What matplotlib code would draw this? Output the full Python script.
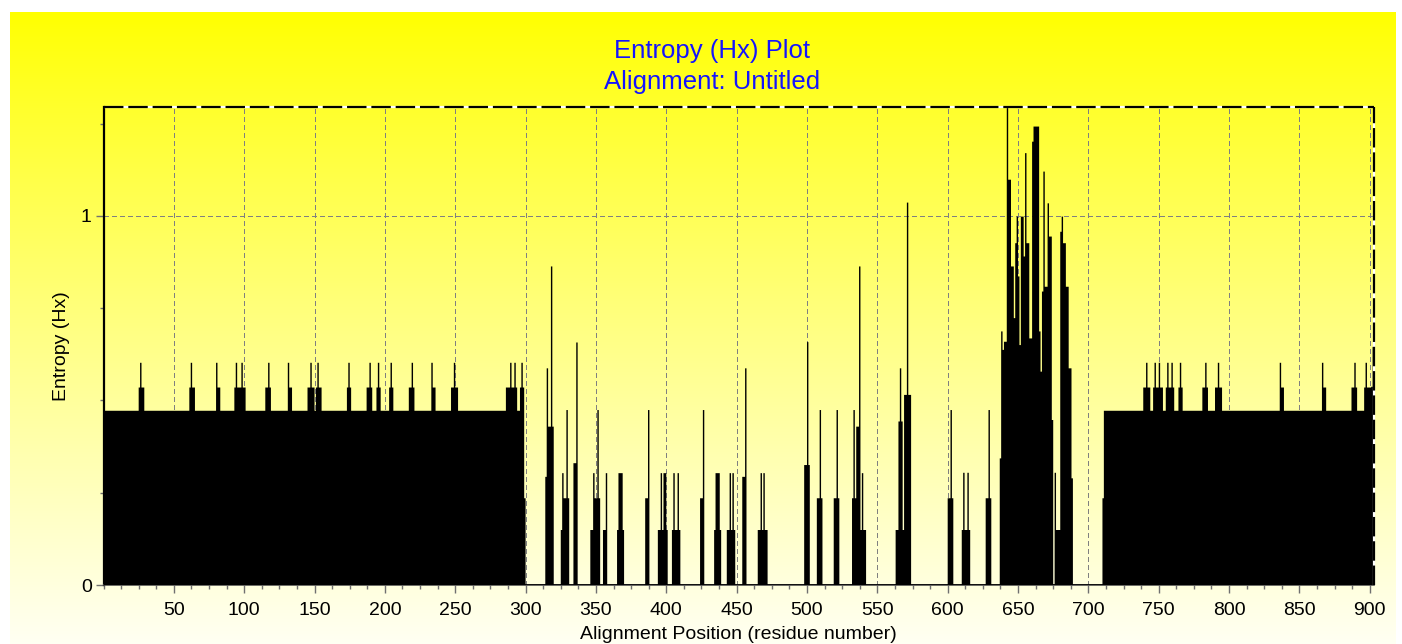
import numpy as np
import matplotlib
matplotlib.use("Agg")
import matplotlib.pyplot as plt
from matplotlib.ticker import MultipleLocator, FixedLocator

plt.rcParams['font.family'] = ['Liberation Sans', 'DejaVu Sans']
plt.rcParams['lines.scale_dashes'] = False

# ---------------- data ----------------
N_POSITIONS = 903
PLATEAU_LEVEL = 0.472
plateau_ranges = [(1, 299), (712, 903)]

SHOULDER_LEVEL = 0.535
shoulder_ranges = [(26, 29), (62, 65), (81, 83), (94, 101), (116, 119), (132, 134),
                   (146, 150), (152, 155), (174, 176), (188, 191), (195, 197), (204, 206),
                   (218, 221), (234, 236), (248, 252), (287, 294), (297, 299),
                   (740, 744), (747, 753), (756, 761), (765, 767), (782, 785), (791, 795),
                   (837, 839), (867, 869), (888, 891), (897, 900), (901, 902)]

SPIKE_LEVEL = 0.602
spike_positions = [27, 63, 81, 95, 99, 118, 132, 148, 153, 175, 190, 196, 205, 220,
                   234, 250, 290, 293, 298, 742, 748, 751, 757, 760, 766, 784, 793,
                   837, 867, 890, 898]

mid_positions = [300, 315, 316, 317, 318, 319, 320, 326, 327, 328, 329, 330, 331,
                 335, 336, 337, 347, 348, 349, 350, 351, 352, 353, 356, 357, 358,
                 366, 367, 368, 369, 370, 386, 387, 388, 395, 396, 397, 398, 399, 400, 401,
                 405, 406, 407, 408, 409, 410, 425, 426, 427, 435, 436, 437, 438, 439,
                 444, 445, 446, 447, 448, 449, 455, 456, 457, 466, 467, 468, 469, 470, 471, 472,
                 499, 500, 501, 502, 508, 509, 510, 511, 520, 521, 522, 523,
                 533, 534, 535, 536, 537, 538, 539, 540, 541, 542,
                 564, 565, 566, 567, 568, 569, 570, 571, 572, 573, 574,
                 601, 602, 603, 604, 611, 612, 613, 614, 615, 616, 628, 629, 630, 631,
                 638, 639, 640, 641, 642, 643, 644, 645, 646, 647, 648, 649, 650, 651, 652,
                 653, 654, 655, 656, 657, 658, 659, 660, 661, 662, 663, 664, 665, 666, 667,
                 668, 669, 670, 671, 672, 673, 674, 675, 677, 678, 679, 680, 681, 682, 683,
                 684, 685, 686, 687, 688, 689, 711, 902]
mid_values = [0.235, 0.293, 0.587, 0.429, 0.429, 0.863, 0.429, 0.149, 0.303, 0.235, 0.235, 0.474, 0.235,
              0.330, 0.330, 0.657, 0.149, 0.149, 0.303, 0.235, 0.235, 0.474, 0.235, 0.149, 0.149, 0.303,
              0.149, 0.303, 0.303, 0.303, 0.149, 0.235, 0.235, 0.474, 0.149, 0.149, 0.303, 0.149, 0.303, 0.303, 0.149,
              0.149, 0.303, 0.149, 0.149, 0.303, 0.149, 0.235, 0.235, 0.474, 0.149, 0.303, 0.303, 0.303, 0.149,
              0.149, 0.149, 0.303, 0.149, 0.303, 0.149, 0.293, 0.293, 0.587, 0.149, 0.149, 0.303, 0.149, 0.303, 0.149, 0.149,
              0.325, 0.325, 0.658, 0.325, 0.235, 0.235, 0.474, 0.235, 0.235, 0.235, 0.474, 0.235,
              0.235, 0.474, 0.235, 0.429, 0.429, 0.863, 0.149, 0.303, 0.149, 0.149,
              0.149, 0.149, 0.443, 0.587, 0.443, 0.149, 0.515, 0.515, 1.036, 0.515, 0.515,
              0.235, 0.235, 0.474, 0.235, 0.149, 0.304, 0.149, 0.149, 0.304, 0.149, 0.235, 0.235, 0.474, 0.235,
              0.343, 0.687, 0.637, 0.659, 0.659, 1.294, 1.098, 1.098, 0.863, 0.863, 0.723, 0.926, 0.998, 0.836, 0.650,
              0.998, 0.998, 0.890, 1.170, 0.926, 0.926, 0.668, 0.668, 1.201, 1.242, 1.242, 1.242, 1.242, 0.687, 0.578,
              0.795, 1.120, 0.808, 0.808, 1.034, 0.944, 0.944, 0.447, 0.304, 0.149, 0.149, 0.149, 0.957, 0.998, 0.926,
              0.926, 0.808, 0.808, 0.587, 0.587, 0.289, 0.235, 0.537]
last_position_value = 0.645

title_lines = ["Entropy (Hx) Plot", "Alignment: Untitled"]
x_label = "Alignment Position (residue number)"
y_label = "Entropy (Hx)"
x_major_ticks = list(range(50, 901, 50))
y_major_ticks = [0, 1]

# ---------------- build the series ----------------
entropy = np.zeros(N_POSITIONS)
for a, b in plateau_ranges:
    entropy[a - 1:b] = PLATEAU_LEVEL
for a, b in shoulder_ranges:
    entropy[a - 1:b] = SHOULDER_LEVEL
for p in spike_positions:
    entropy[p - 1] = SPIKE_LEVEL
for p, v in zip(mid_positions, mid_values):
    entropy[p - 1] = v
entropy[N_POSITIONS - 1] = last_position_value
edges = np.arange(0, N_POSITIONS + 1)

# ---------------- figure ----------------
W, H = 1402, 644
fig = plt.figure(figsize=(W / 100, H / 100), dpi=100)
fig.patch.set_facecolor('white')

# gradient panel
px0, px1, py0 = 10, 1396, 12
bg = fig.add_axes([px0 / W, 0, (px1 - px0) / W, (H - py0) / H], zorder=-10)
bg.axis('off')
t = np.linspace(0, 1, 256)
blue = (t ** 0.9) * 0.95
grad = np.zeros((256, 1, 3))
grad[:, 0, 0] = 1.0
grad[:, 0, 1] = 1.0
grad[:, 0, 2] = blue
bg.imshow(grad, aspect='auto', extent=[0, 1, 0, 1], origin='upper')
bg.set_xlim(0, 1)
bg.set_ylim(0, 1)

ax_l, ax_r, ax_t, ax_b = 103.5, 1374, 107, 585
ax = fig.add_axes([ax_l / W, 1 - ax_b / H, (ax_r - ax_l) / W, (ax_b - ax_t) / H])
ax.patch.set_alpha(0)

ax.stairs(entropy, edges, fill=True, color='black', linewidth=0, zorder=3)
ax.axhline(0, color='black', lw=1.2, zorder=4)

ax.set_xlim(0, N_POSITIONS)
ax.set_ylim(0, 1.295)

# grid
grid_kw = dict(color='#808080', lw=0.75, dashes=(3, 2.2), zorder=1, antialiased=False)
for xv in x_major_ticks:
    ax.axvline(xv, **grid_kw)
ax.axhline(1, **grid_kw)

# ticks
ax.xaxis.set_major_locator(FixedLocator(x_major_ticks))
ax.xaxis.set_minor_locator(MultipleLocator(12.5))
ax.yaxis.set_major_locator(FixedLocator(y_major_ticks))
ax.yaxis.set_minor_locator(MultipleLocator(0.25))
ax.tick_params(axis='both', which='major', length=5.5, width=1, color='#707070',
               labelsize=14, direction='out')
ax.tick_params(axis='both', which='minor', length=2.7, width=1, color='#707070',
               direction='out')
ax.tick_params(axis='x', which='major', pad=7)
ax.tick_params(axis='y', which='major', pad=3)
ax.tick_params(top=False, right=False, which='both')

# spines
ax.spines['left'].set_color('black')
ax.spines['left'].set_linewidth(1.6)
ax.spines['bottom'].set_color('#505050')
ax.spines['bottom'].set_linewidth(1.2)
ax.spines['top'].set_visible(False)
ax.spines['right'].set_visible(False)
for xs, ys in (([0, 1], [1, 1]), ([1, 1], [0, 1])):
    ax.plot(xs, ys, transform=ax.transAxes, color='white', lw=1.6, clip_on=False, zorder=6,
            solid_capstyle='butt')
    ax.plot(xs, ys, transform=ax.transAxes, color='black', lw=1.6, clip_on=False, zorder=7,
            dashes=(14, 3.5), dash_capstyle='butt')

ax.set_xlabel(x_label, fontsize=14, labelpad=5)
ax.set_ylabel(y_label, fontsize=14, labelpad=8)

fig.text(712 / W, 1 - 66.5 / H, "\n".join(title_lines), color='#1414FF', fontsize=18.5,
         ha='center', va='center', linespacing=1.32)

fig.savefig('out.png', dpi=100, facecolor=fig.get_facecolor())
